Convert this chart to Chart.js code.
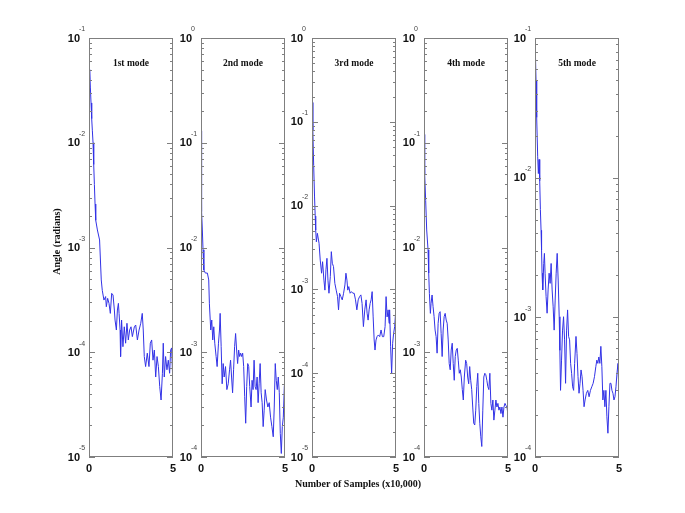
<!DOCTYPE html>
<html><head><meta charset="utf-8">
<script src="https://cdn.jsdelivr.net/npm/chart.js@4/dist/chart.umd.min.js"></script>
<style>
body{margin:0;background:#fff;}
#wrap{position:relative;width:685px;height:513px;background:#fff;}
#wrap canvas{position:absolute;left:0;top:0;}
</style>
</head><body><div id="wrap"></div>
<script>
const modeTitles = ['1st mode','2nd mode','3rd mode','4th mode','5th mode'];
const yAxisTitle = 'Angle (radians)';
const xAxisTitle = 'Number of Samples (x10,000)';
const xTickLabels = ['0','5'];
const yMinExp = [-5,-4,-5,-4,-4];
const yMaxExp = [-1,0,0,0,-1];

const samples1 = [0,0.04,0.08,0.12,0.16,0.20,0.24,0.28,0.32,0.36,0.40,0.50,0.63,0.73,0.79,0.89,0.99,1.03,1.11,1.19,1.27,1.35,1.43,1.51,1.55,1.63,1.69,1.75,1.79,1.85,1.88,1.94,2.02,2.10,2.18,2.26,2.34,2.42,2.50,2.58,2.70,2.78,2.88,2.98,3.08,3.17,3.23,3.29,3.37,3.47,3.57,3.65,3.73,3.81,3.89,3.97,4.05,4.13,4.21,4.29,4.37,4.42,4.48,4.56,4.64,4.72,4.80,4.86,4.92,5.00];
const angle1 = [0.040,0.050,0.034,0.024,0.017,0.013,0.010,0.0062,0.0040,0.0026,0.00182,0.00147,0.00118,0.00049,0.00039,3.15e-4,3.4e-4,2.72e-4,3.27e-4,2.93e-4,2.35e-4,3.65e-4,3.52e-4,2.53e-4,2.03e-4,1.63e-4,2.53e-4,2.93e-4,2.35e-4,1.63e-4,9.1e-5,2.03e-4,1.13e-4,1.75e-4,1.22e-4,1.89e-4,1.31e-4,1.63e-4,1.75e-4,1.41e-4,1.75e-4,1.82e-4,1.31e-4,1.63e-4,1.89e-4,2.35e-4,1.63e-4,9.1e-5,7.3e-5,9.8e-5,7.3e-5,1.22e-4,1.31e-4,8.4e-5,1.05e-4,5.8e-5,9.1e-5,7.3e-5,4.7e-5,3.5e-5,6.3e-5,1.22e-4,5.8e-5,9.1e-5,6.8e-5,8.4e-5,6.3e-5,1.05e-4,1.1e-4,4.7e-5];

const samples2 = [0,0.02,0.05,0.08,0.12,0.17,0.26,0.38,0.46,0.5,0.58,0.64,0.7,0.76,0.82,0.9,0.96,1.04,1.1,1.14,1.2,1.26,1.32,1.38,1.46,1.54,1.62,1.7,1.76,1.82,1.88,1.94,2.0,2.06,2.12,2.18,2.24,2.3,2.36,2.42,2.48,2.54,2.6,2.66,2.72,2.78,2.84,2.9,2.98,3.04,3.1,3.16,3.22,3.28,3.34,3.4,3.46,3.52,3.58,3.64,3.7,3.76,3.82,3.9,3.98,4.06,4.14,4.22,4.3,4.36,4.42,4.48,4.54,4.6,4.66,4.72,4.78,4.84,4.9,4.96,5.0];
const angle2 = [0.13,0.05,0.022,0.0147,0.0095,0.0061,0.0057,0.0057,0.0049,0.0029,0.00163,0.00203,0.00131,0.00175,0.00122,9.1e-4,7.3e-4,1.22e-3,1.63e-3,2.35e-3,1.13e-3,5.0e-4,7.8e-4,5.8e-4,7.3e-4,4.4e-4,5.0e-4,6.8e-4,8.4e-4,5.8e-4,4.1e-4,6.8e-4,1.13e-3,1.51e-3,1.05e-3,7.8e-4,1.05e-3,9.1e-4,9.8e-4,9.1e-4,9.8e-4,7.3e-4,3.8e-4,2.1e-4,4.7e-4,7.8e-4,7.3e-4,4.7e-4,3.0e-4,5.4e-4,4.4e-4,8.4e-4,4.7e-4,4.4e-4,5.8e-4,3.3e-4,5.0e-4,7.8e-4,4.1e-4,3.3e-4,1.95e-4,2.8e-4,4.4e-4,3.5e-4,3.0e-4,3.3e-4,2.4e-4,1.95e-4,1.56e-4,3.0e-4,7.8e-4,5.4e-4,4.4e-4,5.8e-4,4.1e-4,1.68e-4,1.08e-4,1.95e-4,2.4e-4,4.7e-4,5.4e-4];

const samples3 = [0,0.05,0.1,0.15,0.19,0.22,0.26,0.32,0.42,0.49,0.57,0.63,0.71,0.77,0.83,0.89,0.95,1.01,1.09,1.15,1.21,1.28,1.36,1.44,1.52,1.58,1.64,1.72,1.80,1.88,1.96,2.02,2.08,2.13,2.19,2.27,2.35,2.43,2.51,2.59,2.67,2.75,2.83,2.91,2.98,3.06,3.14,3.22,3.28,3.34,3.40,3.46,3.52,3.58,3.64,3.70,3.75,3.81,3.87,3.95,4.03,4.11,4.19,4.27,4.35,4.41,4.47,4.53,4.59,4.62,4.68,4.74,4.80,4.86,4.92,5.0];
const angle3 = [0.17,0.08,0.03,0.013,0.0075,0.0051,0.0037,0.00467,0.00355,0.00224,0.00156,0.00214,0.00129,9.8e-4,1.71e-3,2.35e-3,1.29e-3,9.0e-4,1.42e-3,2.82e-3,2.05e-3,1.87e-3,1.18e-3,9.8e-4,8.2e-4,5.7e-4,9.0e-4,8.2e-4,7.5e-4,9.0e-4,1.13e-3,1.56e-3,1.29e-3,9.8e-4,1.08e-3,9.0e-4,9.4e-4,9.0e-4,9.0e-4,7.5e-4,5.7e-4,7.5e-4,8.2e-4,8.6e-4,6.8e-4,3.6e-4,5.7e-4,7.5e-4,5.2e-4,4.3e-4,5.7e-4,6.8e-4,7.5e-4,9.4e-4,4.7e-4,2.49e-4,1.89e-4,2.49e-4,2.73e-4,2.86e-4,2.73e-4,3.28e-4,2.73e-4,2.73e-4,3.6e-4,8.2e-4,4.7e-4,5.7e-4,3.94e-4,5.7e-4,2.07e-4,1.0e-4,2.27e-4,2.99e-4,3.6e-4,6.2e-4];

const samples4 = [0,0.04,0.1,0.16,0.24,0.28,0.32,0.38,0.42,0.48,0.54,0.60,0.66,0.72,0.78,0.84,0.90,0.96,1.02,1.08,1.14,1.20,1.26,1.32,1.38,1.44,1.50,1.56,1.62,1.68,1.74,1.80,1.86,1.92,1.98,2.04,2.10,2.16,2.22,2.28,2.34,2.40,2.48,2.54,2.60,2.66,2.72,2.78,2.84,2.90,2.96,3.02,3.08,3.14,3.20,3.26,3.32,3.38,3.44,3.50,3.56,3.62,3.68,3.74,3.80,3.86,3.92,3.98,4.04,4.10,4.16,4.22,4.28,4.34,4.40,4.46,4.52,4.58,4.64,4.70,4.76,4.82,4.88,4.94,5.0];
const angle4 = [0.12,0.05,0.028,0.0147,9.5e-3,5.7e-3,3.65e-3,2.35e-3,2.93e-3,3.52e-3,2.72e-3,2.19e-3,1.63e-3,1.41e-3,9.8e-4,1.89e-3,2.35e-3,2.44e-3,1.51e-3,9.1e-4,1.63e-3,2.19e-3,2.35e-3,2.03e-3,1.89e-3,1.31e-3,7.8e-4,6.8e-4,1.05e-3,1.22e-3,7.8e-4,5.4e-4,9.1e-4,1.05e-3,1.09e-3,8.4e-4,6.3e-4,6.8e-4,5.8e-4,4.4e-4,3.5e-4,5.8e-4,8.4e-4,7.8e-4,5.8e-4,5.0e-4,7.3e-4,5.4e-4,4.4e-4,3.0e-4,2.1e-4,2.02e-4,2.8e-4,4.7e-4,6.3e-4,3.25e-4,2.1e-4,1.56e-4,1.26e-4,2.8e-4,5.8e-4,6.3e-4,6.1e-4,5.4e-4,4.7e-4,4.4e-4,6.3e-4,3.25e-4,2.8e-4,3.5e-4,2.25e-4,2.8e-4,3.5e-4,3.0e-4,3.25e-4,2.8e-4,3.0e-4,2.6e-4,3.0e-4,2.4e-4,3.0e-4,3.25e-4,3.1e-4,3.0e-4,2.5e-4];

const samples5 = [0,0.03,0.06,0.1,0.16,0.2,0.24,0.28,0.32,0.36,0.39,0.42,0.46,0.52,0.56,0.60,0.66,0.72,0.78,0.84,0.90,0.96,1.02,1.08,1.14,1.20,1.26,1.32,1.38,1.44,1.48,1.52,1.58,1.64,1.70,1.76,1.82,1.88,1.94,2.00,2.06,2.12,2.18,2.24,2.30,2.36,2.44,2.50,2.56,2.62,2.68,2.74,2.80,2.86,2.92,2.98,3.06,3.14,3.22,3.30,3.38,3.46,3.54,3.62,3.68,3.74,3.80,3.86,3.92,3.98,4.04,4.10,4.16,4.22,4.28,4.34,4.40,4.46,4.52,4.58,4.64,4.70,4.76,4.82,4.88,4.94,5.0];
const angle5 = [0.06,0.072,0.05,0.027,0.0141,0.0107,0.0135,0.0095,0.0059,0.0042,3.03e-3,2.07e-3,1.57e-3,2.43e-3,2.87e-3,2.07e-3,1.41e-3,1.07e-3,1.57e-3,2.07e-3,1.75e-3,2.43e-3,1.57e-3,1.19e-3,8.1e-4,1.33e-3,2.07e-3,2.87e-3,1.85e-3,1.01e-3,5.8e-4,3.0e-4,4.94e-4,8.1e-4,1.01e-3,6.9e-4,3.37e-4,8.1e-4,1.13e-3,7.3e-4,6.9e-4,4.68e-4,3.97e-4,3.18e-4,3.0e-4,4.68e-4,7.3e-4,5.5e-4,3.76e-4,2.86e-4,3.37e-4,4.2e-4,3.76e-4,3.0e-4,2.29e-4,2.56e-4,2.86e-4,3.0e-4,2.7e-4,3.0e-4,3.18e-4,3.37e-4,3.76e-4,4.43e-4,4.94e-4,4.68e-4,5.2e-4,4.68e-4,6.2e-4,4.43e-4,2.56e-4,3.0e-4,2.29e-4,3.0e-4,1.94e-4,1.48e-4,2.29e-4,3.37e-4,3.37e-4,3.0e-4,2.86e-4,2.56e-4,2.7e-4,3.18e-4,3.97e-4,4.68e-4,2.7e-4];

const allSamples = [samples1,samples2,samples3,samples4,samples5];
const allAngles = [angle1,angle2,angle3,angle4,angle5];

// layout (pixel boxes of the five panels)
const panelLeft = [89,201,312,424,535];
const panelWidth = 84;
const plotTop = 38, plotBottom = 457;
const W = 685, H = 513;

const AXIS_COLOR = '#7f7f7f';
const LINE_COLOR = 'rgb(50,50,230)';

function axesPlugin(idx){
  return {
    id:'axesDeco'+idx,
    afterDatasetsDraw(chart){
      const ctx = chart.ctx, a = chart.chartArea;
      const ys = chart.scales.y, xs = chart.scales.x;
      ctx.save();
      ctx.strokeStyle = AXIS_COLOR;
      ctx.lineWidth = 1;
      ctx.strokeRect(a.left+0.5, a.top+0.5, a.right-a.left-1, a.bottom-a.top-1);
      ctx.beginPath();
      for(let e=yMinExp[idx]; e<=yMaxExp[idx]; e++){
        for(let m=1;m<=9;m++){
          const v = m*Math.pow(10,e);
          if(v > Math.pow(10,yMaxExp[idx])*1.0001) break;
          const py = Math.round(ys.getPixelForValue(v))+0.5;
          const len = (m===1)?6:3;
          ctx.moveTo(a.left, py); ctx.lineTo(a.left+len, py);
          ctx.moveTo(a.right, py); ctx.lineTo(a.right-len, py);
        }
      }
      ctx.stroke();
      for(let e=yMinExp[idx]; e<=yMaxExp[idx]; e++){
        const py = ys.getPixelForValue(Math.pow(10,e));
        ctx.fillStyle = '#111';
        ctx.font = 'bold 11px "Liberation Sans", Arial, sans-serif';
        ctx.textAlign = 'right'; ctx.textBaseline = 'middle';
        ctx.fillText('10', a.left-9, py+0.5);
        ctx.fillStyle = '#444';
        ctx.font = '7px "Liberation Sans", Arial, sans-serif';
        ctx.textAlign = 'left';
        ctx.fillText(String(e), a.left-10, py-8.5);
      }
      ctx.fillStyle = '#111';
      ctx.font = 'bold 11px "Liberation Sans", Arial, sans-serif';
      ctx.textAlign = 'center'; ctx.textBaseline = 'middle';
      ctx.fillText(xTickLabels[0], xs.getPixelForValue(0), 468.5);
      ctx.fillText(xTickLabels[1], xs.getPixelForValue(5), 468.5);
      ctx.font = 'bold 9.5px "Liberation Serif", "Times New Roman", serif';
      ctx.fillStyle = '#111';
      ctx.fillText(modeTitles[idx], (a.left+a.right)/2, 63.5);
      if(idx===0){
        ctx.font = 'bold 10px "Liberation Serif", "Times New Roman", serif';
        ctx.fillText(xAxisTitle, 358, 484);
        ctx.translate(57, 241.5);
        ctx.rotate(-Math.PI/2);
        ctx.fillText(yAxisTitle, 0, 0);
      }
      ctx.restore();
    }
  };
}

const wrap = document.getElementById('wrap');
for(let i=0;i<5;i++){
  const cv = document.createElement('canvas');
  cv.width = W; cv.height = H;
  wrap.appendChild(cv);
  new Chart(cv.getContext('2d'), {
    type:'line',
    data:{datasets:[{
      data: allSamples[i].map((s,k)=>({x:s, y:allAngles[i][k]})),
      borderColor: LINE_COLOR, borderWidth:1, pointRadius:0, tension:0, fill:false
    }]},
    options:{
      responsive:false, animation:false, devicePixelRatio:1,
      layout:{padding:{left:panelLeft[i], right:W-panelLeft[i]-panelWidth, top:plotTop, bottom:H-plotBottom}},
      scales:{
        x:{type:'linear', min:0, max:5, display:false},
        y:{type:'logarithmic', min:Math.pow(10,yMinExp[i]), max:Math.pow(10,yMaxExp[i]), display:false}
      },
      plugins:{legend:{display:false}, tooltip:{enabled:false}, title:{display:false}}
    },
    plugins:[axesPlugin(i)]
  });
}
</script>
</body></html>
